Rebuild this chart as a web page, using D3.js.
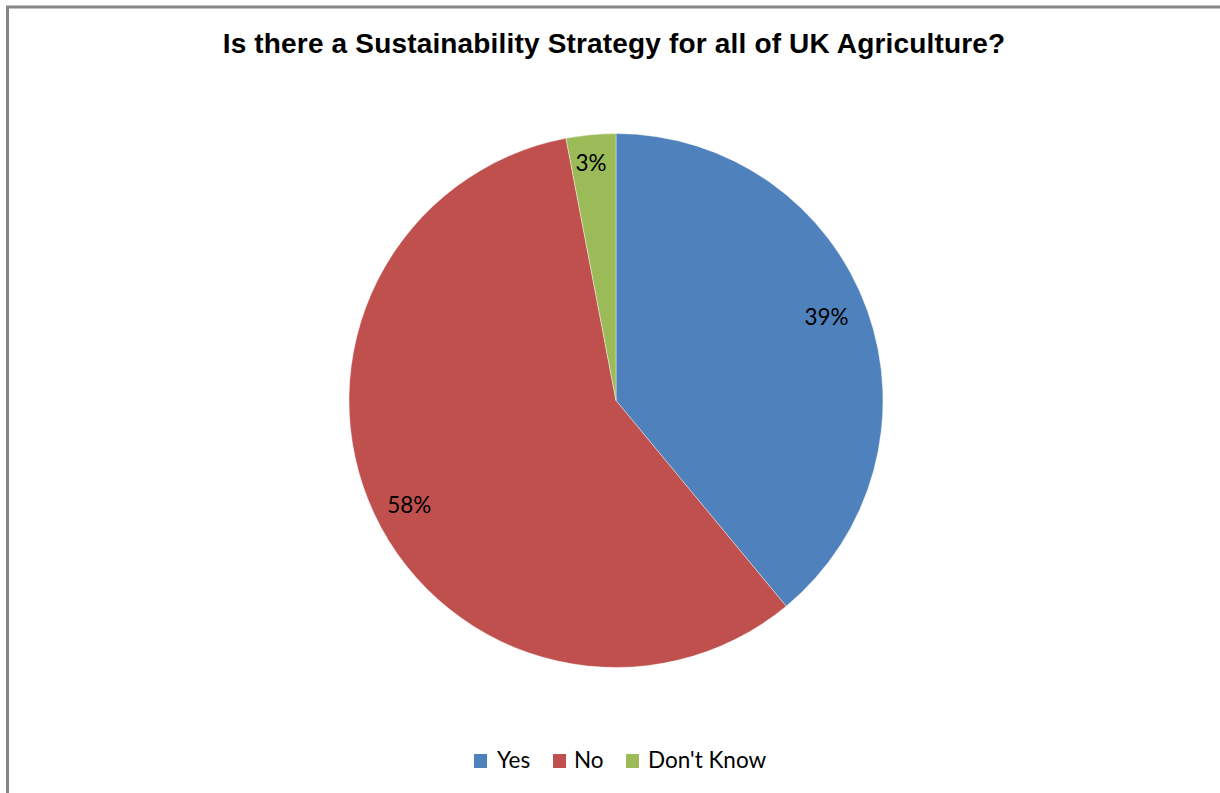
<!DOCTYPE html>
<html><head><meta charset="utf-8">
<script src="https://cdn.jsdelivr.net/npm/d3@7"></script>
<style>html,body{margin:0;padding:0;background:#fff;}svg{display:block;}</style>
</head><body>
<svg id="chart" width="1220" height="793"></svg>
<script>
const categories = ["Yes", "No", "Don't Know"];
const values = [39, 58, 3];
const labels = ["39%", "58%", "3%"];
const colors = ["#4F81BD", "#C0504D", "#9BBB59"];
// label placement style (radius factor and small nudges)
const labelRadiusFactor = [0.846, 0.867, 0.898];
const labelNudgeX = [-2, 2.7, -2.4];
const labelNudgeY = [-7, 6, 1];

const svg = d3.select("#chart");
// frame (clipped at right/bottom as in reference)
svg.append("rect").attr("x", 7.5).attr("y", 7).attr("width", 1300).attr("height", 900)
  .attr("fill", "none").attr("stroke", "#868686").attr("stroke-width", 3);

svg.append("text").attr("x", 614).attr("y", 53).attr("text-anchor", "middle")
  .attr("font-family", "Liberation Sans, Arial, sans-serif").attr("font-weight", "bold")
  .attr("font-size", 28).attr("letter-spacing", 0.17).attr("fill", "#000")
  .text("Is there a Sustainability Strategy for all of UK Agriculture?");

const cx = 616, cy = 400.5, r = 267;
const g = svg.append("g").attr("transform", `translate(${cx},${cy})`);
const data = categories.map((c, i) => ({c, v: values[i], i}));
const pie = d3.pie().sort(null).value(d => d.v);
const arc = d3.arc().innerRadius(0).outerRadius(r);
const arcs = pie(data);
g.selectAll("path").data(arcs).join("path")
  .attr("d", arc).attr("fill", d => colors[d.data.i])
  .attr("stroke", "#fff").attr("stroke-width", 0.4);

g.selectAll("text.lbl").data(arcs).join("text").attr("class", "lbl")
  .attr("transform", d => {
    const i = d.data.i;
    const rr = r * labelRadiusFactor[i];
    const a = (d.startAngle + d.endAngle) / 2;
    return `translate(${Math.sin(a) * rr + labelNudgeX[i]},${-Math.cos(a) * rr + labelNudgeY[i]})`;
  })
  .attr("text-anchor", "middle").attr("dy", "0.36em")
  .attr("font-family", "Lato, 'Open Sans', sans-serif").attr("font-size", 22.5).attr("fill", "#000")
  .text(d => labels[d.data.i]);

// legend
const legendX = [474, 553, 626];
const legendTextX = [497, 574, 648];
const lg = svg.append("g");
categories.forEach((c, i) => {
  lg.append("rect").attr("x", legendX[i]).attr("y", 754).attr("width", 13).attr("height", 14).attr("fill", colors[i]);
  lg.append("text").attr("x", legendTextX[i]).attr("y", 767.5)
    .attr("font-family", "Lato, 'Open Sans', sans-serif").attr("font-size", 22.5).attr("fill", "#000")
    .text(c);
});
</script>
</body></html>
